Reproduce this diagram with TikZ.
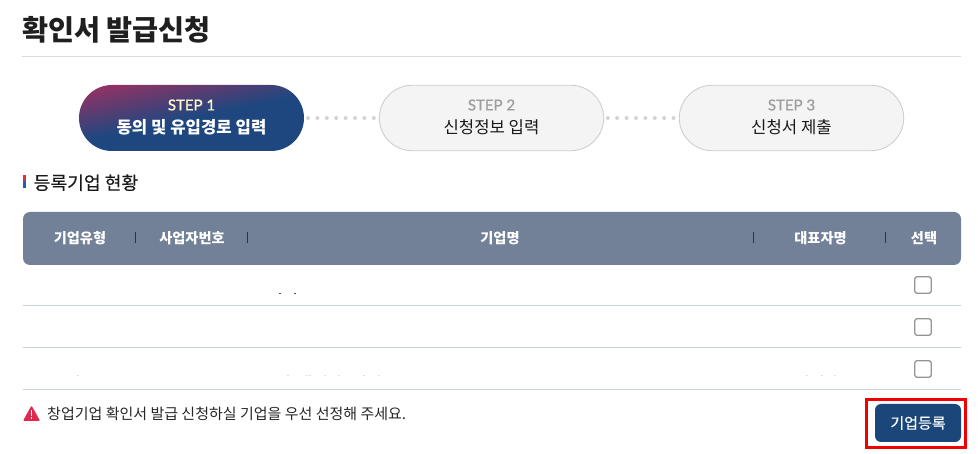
\documentclass[tikz,border=0pt]{standalone}
\usepackage{fontspec}
\setmainfont{Noto Sans CJK KR}
\newfontfamily\latin{Lato}
\newfontfamily\latinmed[FakeBold=1]{Lato}
\newfontfamily\krmed[FakeBold=0.35]{Noto Sans CJK KR}
\definecolor{pillblue}{HTML}{1E4780}
\definecolor{pillred}{HTML}{A03060}
\definecolor{headbg}{HTML}{728197}
\definecolor{rowline}{HTML}{C9D1DF}
\definecolor{navy}{HTML}{1B4679}
\definecolor{warn}{HTML}{E0294F}
\definecolor{markblue}{HTML}{2060B0}
\pgfdeclareverticalshading{pillshade}{100bp}{color(0bp)=(pillblue); color(50bp)=(pillblue); color(80bp)=(pillred); color(100bp)=(pillred)}
\tikzset{
  pill/.style={rectangle,rounded corners=33pt,minimum width=225pt,minimum height=66pt,inner sep=0pt,outer sep=0pt},
  pilloff/.style={pill,draw=black!19,fill=black!4.5,line width=0.9pt,minimum width=224.5pt,minimum height=65.5pt},
  pillon/.style={pill,shading=pillshade,shading angle=12},
  steplbl/.style={font=\latinmed\fontsize{15}{16}\selectfont,inner sep=0pt,text=black!38},
  mainlbl/.style={font=\fontsize{16.7}{18}\selectfont,inner sep=0pt,text=black!90},
  dots/.style={draw=black!17,line cap=round,line width=4pt,dash pattern=on 0pt off 9.4pt,dash phase=5.4pt},
  headlbl/.style={font=\bfseries\fontsize{14.2}{15}\selectfont,text=white,inner sep=0pt},
  headsep/.style={draw=black!60!headbg,line width=0.8pt},
  rowrule/.style={draw=rowline,line width=1pt},
  chk/.style={draw=black!42,fill=white,rounded corners=2.5pt,line width=1.3pt,minimum width=16.6pt,minimum height=16.6pt,inner sep=0pt},
  speck/.style={fill=black!70,inner sep=0pt,minimum width=1.2pt,minimum height=1.2pt},
  faint/.style={fill=black!12,inner sep=0pt,minimum width=1.5pt,minimum height=1pt}
}
\begin{document}
\begin{tikzpicture}[x=1pt,y=-1pt]
\useasboundingbox (0,0) rectangle (978,454);
\fill[white] (0,0) rectangle (978,454);
% title
\node[anchor=west,inner sep=0pt,text=black!88,font=\bfseries\fontsize{28.3}{30}\selectfont] (title) at (22,30) {확인서 발급신청};
\coordinate (ruleL) at (22,56.5); \coordinate (ruleR) at (961,56.5);
\draw[black!14,line width=1pt] (ruleL) -- (ruleR);
% steps
\node[pillon] (s1) at (191.5,118) {};
\node[pilloff] (s2) at (491.5,118) {};
\node[pilloff] (s3) at (791.5,118) {};
\draw[dots] (s1.east) -- (s2.west);
\draw[dots] (s2.east) -- (s3.west);
\node[steplbl,text=yellow!20!white] (l1a) at (191.5,105) {STEP 1};
\node[mainlbl,text=white,font=\bfseries\fontsize{16.7}{18}\selectfont] (l1b) at (191.5,127) {동의 및 유입경로 입력};
\node[steplbl] (l2a) at (491.5,105) {STEP 2};
\node[mainlbl] (l2b) at (491.5,127) {신청정보 입력};
\node[steplbl] (l3a) at (791.5,105) {STEP 3};
\node[mainlbl] (l3b) at (791.5,127) {신청서 제출};
% section heading
\fill[warn] (23,175) rectangle (26,181);
\fill[markblue] (23,181) rectangle (26,188);
\node[anchor=west,inner sep=0pt,text=black!90,font=\krmed\fontsize{18.2}{20}\selectfont] (sec) at (33.5,182.7) {등록기업 현황};
% table head
\node[fill=headbg,rounded corners=7pt,minimum width=938pt,minimum height=53pt,inner sep=0pt,outer sep=0pt] (thead) at (492,238.5) {};
\node[headlbl] (h1) at (80,238) {기업유형};
\node[headlbl] (h2) at (192,238) {사업자번호};
\node[headlbl] (h3) at (500,238) {기업명};
\node[headlbl] (h4) at (820.5,238) {대표자명};
\node[headlbl] (h5) at (924,238) {선택};
\foreach \sx in {135.5,247.5,753.5,885.5}{\draw[headsep] (\sx,232.5) -- (\sx,243.5);}
% rows
\foreach \ry in {305.5,347.5,389.5}{\draw[rowrule] (23,\ry) -- (961,\ry);}
\node[chk] (c1) at (923,285) {};
\node[chk] (c2) at (923,327) {};
\node[chk] (c3) at (923,369) {};
\foreach \px in {280,295}{\node[speck] at (\px,293.3) {};}
\foreach \px in {78,288,307,310,325,339,364,379,807,822,835}{\node[faint] at (\px,375.5) {};}
% warning
\fill[warn,rounded corners=1pt] (31.5,405.5) -- (40,420.8) -- (23,420.8) -- cycle;
\fill[white] (30.7,410) rectangle (32.3,415.8);
\fill[white] (30.7,417) rectangle (32.3,418.6);
\node[anchor=west,inner sep=0pt,text=black!85,font=\fontsize{15}{16}\selectfont] (note) at (47,414) {창업기업 확인서 발급 신청하실 기업을 우선 선정해 주세요.};
% button
\node[fill=navy,text=white,rounded corners=6pt,minimum width=86pt,minimum height=38pt,inner sep=0pt,outer sep=0pt,font=\krmed\fontsize{15}{16}\selectfont] (btn) at (918,423) {기업등록};
\node[draw=red!95!black,line width=3pt,minimum width=99pt,minimum height=47.5pt,inner sep=0pt] (hl) at (916,423.3) {};
\end{tikzpicture}
\end{document}
